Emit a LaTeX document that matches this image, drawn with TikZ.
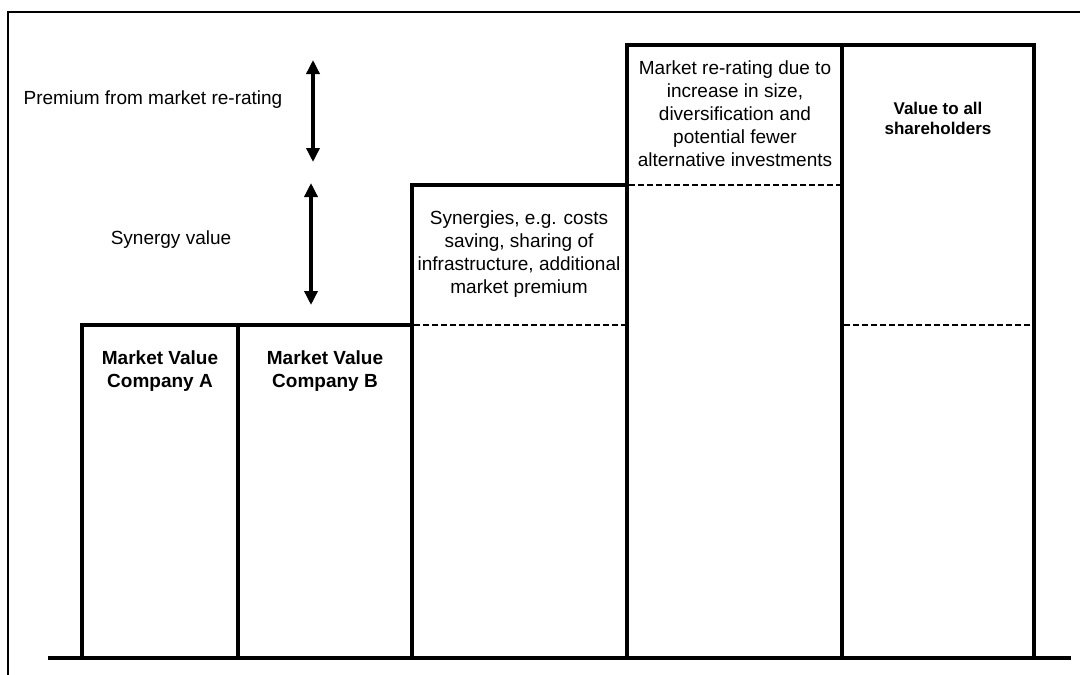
\documentclass[tikz,border=0pt]{standalone}
\usepackage{fontspec}
\setmainfont{Liberation Sans}
\usetikzlibrary{arrows.meta}
\begin{document}
\begin{tikzpicture}[x=1pt,y=-1pt,
  frameline/.style={line width=2.4pt},
  barline/.style={line width=4.6pt},
  divline/.style={line width=1.8pt,dash pattern=on 6pt off 3pt},
  dim/.style={line width=3.4pt,{Triangle[length=14pt,width=13pt]}-{Triangle[length=14pt,width=13pt]}},
  lbl/.style={align=center,inner sep=0pt,font=\fontsize{19}{23}\selectfont},
  blbl/.style={align=center,inner sep=0pt,font=\fontsize{19}{23}\selectfont\bfseries},
  slbl/.style={align=center,inner sep=0pt,font=\fontsize{17}{20}\selectfont\bfseries}]
\useasboundingbox (0,0) rectangle (1080,675);
% frame
\draw[frameline] (8,675) -- (8,12) -- (1080,12);
% bars
\draw[barline] (82,658) -- (82,325) -- (238,325) -- (238,658);
\draw[barline] (238,325) -- (412,325) -- (412,658);
\draw[barline] (412,325) -- (412,185) -- (627,185) -- (627,658);
\draw[barline] (627,185) -- (627,45) -- (842,45) -- (842,658);
\draw[barline] (842,45) -- (1034,45) -- (1034,658);
\draw[barline] (48,658) -- (1071,658);
% dashed dividers
\draw[divline] (414,325) -- (625,325);
\draw[divline] (629,185) -- (840,185);
\draw[divline] (844,325) -- (1032,325);
% arrows
\coordinate (p1) at (313,60);
\coordinate (p2) at (313,162);
\coordinate (s1) at (311,183);
\coordinate (s2) at (311,305);
\draw[dim] (p1) -- (p2);
\draw[dim] (s1) -- (s2);
% labels
\node[lbl] (prem) at (153,100) {Premium from market re-rating};
\node[lbl] (syn) at (171,240) {Synergy value};
\node[blbl] (mva) at (160,371) {Market Value\\Company A};
\node[blbl] (mvb) at (325,371) {Market Value\\Company B};
\node[lbl] (syntxt) at (519,254) {Synergies, e.g. costs\\saving, sharing of\\infrastructure, additional\\market premium};
\node[lbl] (rerate) at (735,114) {Market re-rating due to\\increase in size,\\diversification and\\potential fewer\\alternative investments};
\node[slbl] (all) at (938,118) {Value to all\\shareholders};
\end{tikzpicture}
\end{document}
